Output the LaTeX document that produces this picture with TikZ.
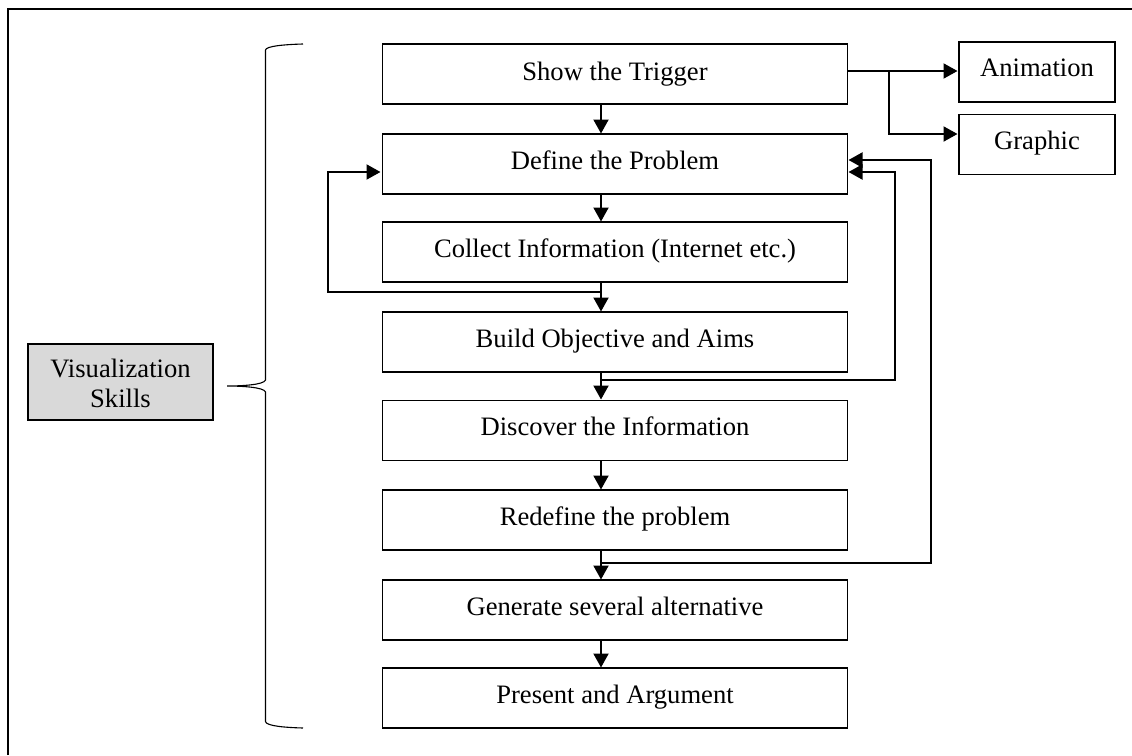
\documentclass[tikz,border=0pt]{standalone}
\usepackage{fontspec}
\setmainfont{Liberation Serif}
\usetikzlibrary{arrows.meta}
\tikzset{
  x=1pt,y=-1pt,
  flowbox/.style={draw=black,line width=1.6pt,fill=white,minimum width=465pt,minimum height=60pt,inner sep=0pt,text height=10.8pt,text depth=0pt,font=\fontsize{26.6}{30}\selectfont},
  sidebox/.style={draw=black,line width=1.6pt,fill=white,minimum width=156pt,minimum height=60pt,inner sep=0pt,text height=9.2pt,text depth=0pt,font=\fontsize{26.6}{30}\selectfont},
  skillbox/.style={draw=black,line width=1.6pt,fill=black!15,minimum width=185pt,minimum height=76pt,inner sep=0pt,align=center,font=\fontsize{26.6}{30}\selectfont},
  conn/.style={draw=black,line width=2pt,-{Triangle[length=14pt,width=15pt]},shorten >=0.5pt},
  frameline/.style={draw=black,line width=1.6pt},
  bracecurve/.style={draw=black,line width=1.1pt}
}
\begin{document}
\begin{tikzpicture}
\useasboundingbox (0,0) rectangle (1132,755);
\fill[white] (0,0) rectangle (1132,755);
\draw[frameline] (8,755) -- (8,9) -- (1132,9);
\node[flowbox,text height=12pt] (n1) at (615,74) {Show the Trigger};
\node[flowbox] (n2) at (615,164) {Define the Problem};
\node[flowbox,text height=10pt] (n3) at (615,252) {Collect Information (Internet etc.)};
\node[flowbox] (n4) at (615,342) {Build Objective and Aims};
\node[flowbox] (n5) at (615,430.5) {Discover the Information};
\node[flowbox,text height=11.4pt] (n6) at (615,520) {Redefine the problem};
\node[flowbox,text height=11.4pt] (n7) at (615,610) {Generate several alternative};
\node[flowbox] (n8) at (615,698) {Present and Argument};
\node[sidebox] (anim) at (1037,72) {Animation};
\node[sidebox] (graph) at (1037,144.5) {Graphic};
\node[skillbox] (skill) at (120.5,382) {\rule{0pt}{21pt}Visualization\\Skills};
\coordinate (t1) at (601,104);
\coordinate (b2) at (601,134);
\coordinate (t2) at (601,194);
\coordinate (b3) at (601,222);
\coordinate (t3) at (601,282);
\coordinate (b4) at (601,312);
\coordinate (t4) at (601,372);
\coordinate (b5) at (601,400);
\coordinate (t5) at (601,461);
\coordinate (b6) at (601,490);
\coordinate (t6) at (601,550);
\coordinate (b7) at (601,580);
\coordinate (t7) at (601,640);
\coordinate (b8) at (601,668);
\draw[conn] (t1) -- (b2);
\draw[conn] (t2) -- (b3);
\draw[conn] (t3) -- (b4);
\draw[conn] (t4) -- (b5);
\draw[conn] (t5) -- (b6);
\draw[conn] (t6) -- (b7);
\draw[conn] (t7) -- (b8);
\coordinate (r1) at (848,71);
\coordinate (j1) at (889,71);
\draw[conn] (r1) -- (958,71);
\draw[conn] (j1) |- (958,134);
\draw[conn] (601,292) -- (328,292) |- (381,172);
\draw[conn] (601,380) -- (895,380) |- (848,172);
\draw[conn] (601,563) -- (931,563) |- (848,160);
\draw[bracecurve] (303,44) .. controls (285,44.5) and (266,46) .. (265.5,50) -- (265.5,380) .. controls (264,385) and (240,386) .. (227,386) .. controls (240,386) and (264,387) .. (265.5,392) -- (265.5,721.5) .. controls (266,726) and (285,727.5) .. (303,728);
\end{tikzpicture}
\end{document}
